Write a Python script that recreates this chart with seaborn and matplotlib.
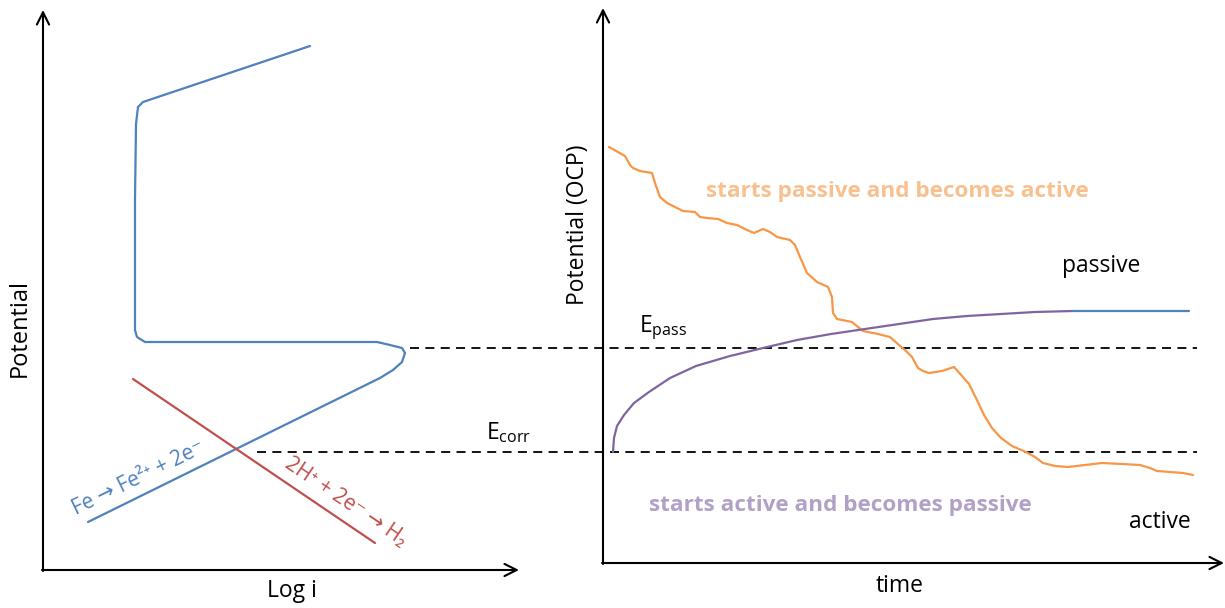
# sketch: polarization curve (left) and OCP vs time (right), drawn in one pixel-scaled axes
import matplotlib.pyplot as plt
import seaborn as sns

# left panel: anodic Fe curve (with active-passive hook) and cathodic H2 line
fe_x = [88, 380, 393, 402, 405, 402, 390, 377, 145, 137, 135, 135, 136, 138, 143, 310]
fe_y = [522, 378, 370, 362, 353, 348, 345, 342, 342, 337, 330, 200, 124, 107, 102, 46]
h2_x = [133, 375]
h2_y = [379, 543]

# right panel: OCP transients
ocp_active_x = [609, 625, 630, 633, 640, 652, 655, 660, 667, 677, 683, 695, 700, 707,
                718, 727, 737, 747, 754, 763, 770, 777, 790, 795, 800, 807, 817, 828,
                832, 833, 837, 847, 852, 863, 878, 890, 899, 906, 912, 918, 923, 929,
                942, 954, 962, 969, 976, 984, 992, 1001, 1012, 1026, 1035, 1043, 1055,
                1068, 1085, 1102, 1122, 1140, 1150, 1157, 1170, 1183, 1193]
ocp_active_y = [147, 156, 165, 168, 171, 173, 183, 197, 203, 208, 211, 212, 217, 218,
                219, 223, 225, 230, 233, 229, 232, 237, 240, 245, 257, 273, 282, 287,
                297, 313, 319, 321, 322, 331, 334, 337, 345, 351, 357, 368, 371, 373,
                371, 367, 376, 384, 398, 415, 428, 438, 446, 452, 457, 463, 466,
                467, 465, 463, 464, 465, 468, 471, 472, 473, 475]
ocp_passive_x = [613, 613.5, 614, 617, 624, 634, 649, 670, 696, 730, 763, 797, 831, 865,
                 899, 933, 967, 1001, 1035, 1073]
ocp_passive_y = [452, 445, 438, 426, 415, 403, 392, 378, 366, 356, 348, 340, 334, 329,
                 324, 319, 316, 314, 312, 311]
plateau_x = [1073, 1189]
plateau_y = [311, 311]

e_pass = 348
e_corr = 452

blue = "#4F81BD"
red = "#C0504D"
orange = "#F79646"
purple = "#8064A2"

sns.set_theme(style="white")
plt.rcParams["font.family"] = ["Open Sans", "DejaVu Sans"]
plt.rcParams["mathtext.fontset"] = "custom"
plt.rcParams["mathtext.rm"] = "Open Sans"
plt.rcParams["text.color"] = "black"

fig = plt.figure(figsize=(12.25, 6.08), dpi=100)
ax = fig.add_axes([0, 0, 1, 1])
ax.set_xlim(0, 1225)
ax.set_ylim(608, 0)
ax.axis("off")

# axes arrows
arrow = dict(arrowstyle="->", lw=1.5, color="black", mutation_scale=22, shrinkA=0, shrinkB=0)
ax.annotate("", xy=(43, 10), xytext=(43, 571), arrowprops=arrow)
ax.annotate("", xy=(519, 570), xytext=(42, 570), arrowprops=arrow)
ax.annotate("", xy=(603, 8), xytext=(603, 564), arrowprops=arrow)
ax.annotate("", xy=(1224, 563), xytext=(602, 563), arrowprops=arrow)

# dashed potential levels
ax.plot([410, 1197], [e_pass, e_pass], color="black", lw=1.3, dashes=(5, 3.5))
ax.plot([257, 1197], [e_corr, e_corr], color="black", lw=1.3, dashes=(5, 3.5))

line_kw = dict(sort=False, estimator=None, lw=1.6, ax=ax)
sns.lineplot(x=fe_x, y=fe_y, color=blue, **line_kw)
sns.lineplot(x=h2_x, y=h2_y, color=red, **line_kw)
sns.lineplot(x=ocp_active_x, y=ocp_active_y, color=orange, **line_kw)
sns.lineplot(x=ocp_passive_x, y=ocp_passive_y, color=purple, **line_kw)
sns.lineplot(x=plateau_x, y=plateau_y, color=blue, **line_kw)
for ln in ax.lines:
    ln.set_solid_joinstyle("round")

# labels
ax.text(20, 328, "Potential", rotation=90, ha="center", va="center", fontsize=17)
ax.text(292, 591, "Log i", ha="center", va="center", fontsize=16.5)
ax.text(578, 225, "Potential (OCP)", rotation=90, ha="center", va="center", fontsize=16.5)
ax.text(900, 586, "time", ha="center", va="center", fontsize=16.5)

ax.text(139, 478, "Fe → Fe²⁺ + 2e⁻", rotation=26,
        rotation_mode="anchor", ha="center", va="center", fontsize=15, color=blue)
ax.text(346, 502, "2H⁺ + 2e⁻ → H₂",
        rotation=-34, rotation_mode="anchor", ha="center", va="center", fontsize=15, color=red)

ax.text(486, 433, r"E$_{\mathregular{corr}}$", ha="left", va="center", fontsize=16.5)
ax.text(639, 328, r"E$_{\mathregular{pass}}$", ha="left", va="center", fontsize=16.5)

ax.text(897, 191, "starts passive and becomes active", ha="center", va="center",
        fontsize=16.2, fontweight="bold", color="#F9C08F")
ax.text(840, 506, "starts active and becomes passive", ha="center", va="center",
        fontsize=16.2, fontweight="bold", color="#B2A1C7")
ax.text(1101, 266, "passive", ha="center", va="center", fontsize=16.5)
ax.text(1160, 522, "active", ha="center", va="center", fontsize=16.5)

plt.savefig("out.png", dpi=100)
